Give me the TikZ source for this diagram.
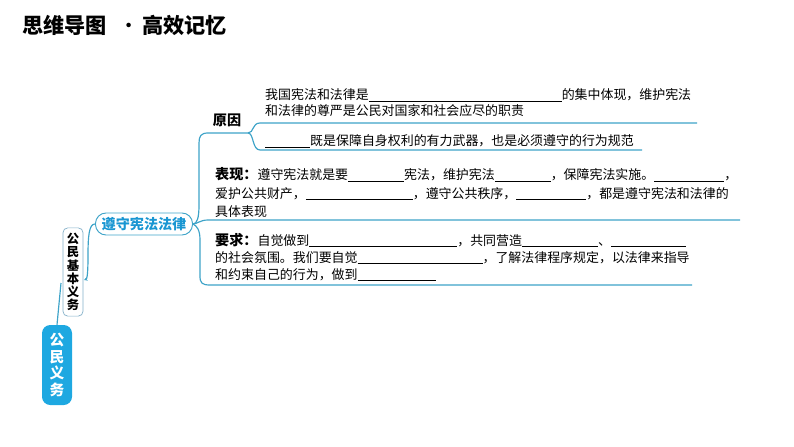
\documentclass[tikz,border=0pt]{standalone}
\usepackage{fontspec}
\setmainfont{Noto Sans CJK SC}
\usepackage{tikz}
\usetikzlibrary{positioning,arrows.meta}

\definecolor{mapblue}{RGB}{30,168,225}
\definecolor{mapline}{RGB}{62,163,200}
\definecolor{lawblue}{RGB}{25,150,210}
\definecolor{boxline}{RGB}{130,175,200}

% blank to fill in, width given in px of the sheet
\newcommand{\blank}[1]{\rule[-1.5pt]{\dimexpr #1pt*85/100\relax}{0.5pt}}
\newcommand{\headword}[1]{{\fontsize{12}{14}\selectfont\bfseries #1}}

\tikzset{
  linetext/.style={anchor=base west,inner sep=0pt,font=\fontsize{11}{13}\selectfont},
  mapedge/.style={draw=mapline,line width=1pt},
}

\begin{document}
\begin{tikzpicture}[x=0.85pt,y=-0.85pt]
  \useasboundingbox (0,0) rectangle (794,447);

  \node[anchor=west,inner sep=0pt,font=\fontsize{18}{20}\selectfont\bfseries](title) at (22,25) {思维导图\hspace{10pt}{\mdseries·}\hspace{2pt}高效记忆};

  % left side
  \node[fill=mapblue,text=white,rounded corners=7pt,minimum width=25.5pt,minimum height=68pt,align=center,
        font=\fontsize{12.5}{14}\selectfont\bfseries](duty) at (57,365) {公\\民\\义\\务};
  \node[draw=boxline,line width=0.6pt,rounded corners=4pt,minimum width=17pt,minimum height=75pt,inner sep=1pt,align=center,
        font=\fontsize{10.5}{11.2}\selectfont\bfseries](basic) at (73,272) {公\\民\\基\\本\\义\\务};
  \node[draw=mapline,line width=0.8pt,rounded corners=9pt,minimum width=82.5pt,minimum height=18.7pt,inner sep=1pt,
        text=lawblue,font=\fontsize{12}{14}\selectfont\bfseries](law) at (144,224) {遵守宪法法律};

  \coordinate (dutyend) at (61,283);
  \coordinate (basicin) at (84,280);
  \draw[mapedge] (duty.north) -- (dutyend);
  \draw[mapedge,-{Stealth[length=3pt,width=3pt]}] (law.west) .. controls (89,224) and (88,236) .. (88,256) .. controls (88,274) and (87,279) .. (basicin);

  % branches
  \node[inner sep=0pt,font=\fontsize{12}{14}\selectfont\bfseries](cause) at (227,120) {原因};
  \coordinate (causetip) at (248,133);
  \coordinate (cause1end) at (697,123);
  \coordinate (cause2end) at (642,150);
  \coordinate (showend) at (740,220);
  \coordinate (askend) at (692,285);

  \draw[mapedge] (law.east) .. controls (197,224) and (199,218) .. (199,205) -- (199,143) .. controls (199,136) and (201,133) .. (208,133) -- (causetip);
  \draw[mapedge] (law.east) .. controls (197,224) and (200,220) .. (208,220) -- (showend);
  \draw[mapedge] (law.east) .. controls (197,226) and (200,230) .. (200,240) -- (200,276) .. controls (200,283) and (202,285) .. (210,285) -- (askend);
  \draw[mapedge] (causetip) .. controls (254,133) and (252,123) .. (260,123) -- (cause1end);
  \draw[mapedge] (causetip) .. controls (254,133) and (252,150) .. (260,150) -- (cause2end);

  % texts of the branches
  \node[linetext](cause1a) at (265,100) {我国宪法和法律是\blank{193}的集中体现，维护宪法};
  \node[linetext](cause1b) at (265,116) {和法律的尊严是公民对国家和社会应尽的职责};
  \node[linetext](cause2) at (265,146) {\blank{45}既是保障自身权利的有力武器，也是必须遵守的行为规范};

  \node[linetext](show1) at (215,180) {\headword{表现：}遵守宪法就是要\blank{56}宪法，维护宪法\blank{56}，保障宪法实施。\blank{70}，};
  \node[linetext](show2) at (215,198) {爱护公共财产，\blank{107}，遵守公共秩序，\blank{70}，都是遵守宪法和法律的};
  \node[linetext](show3) at (215,216) {具体表现};

  \node[linetext](ask1) at (215,245) {\headword{要求：}自觉做到\blank{148}，共同营造\blank{76}、\blank{75}};
  \node[linetext](ask2) at (215,262) {的社会氛围。我们要自觉\blank{125}，了解法律程序规定，以法律来指导};
  \node[linetext](ask3) at (215,279) {和约束自己的行为，做到\blank{78}};
\end{tikzpicture}
\end{document}
